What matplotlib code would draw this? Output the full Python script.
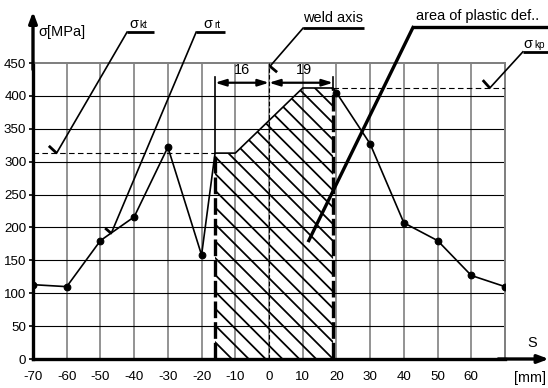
import numpy as np
import matplotlib.pyplot as plt
from matplotlib.patches import Polygon

plt.rcParams['font.family'] = ['Liberation Sans', 'DejaVu Sans']
plt.rcParams['axes.unicode_minus'] = False

# measured residual stress (markers)
s_meas = [-70, -60, -50, -40, -30, -20, 20, 30, 40, 50, 60, 70]
sig_meas = [113, 110, 180, 216, 322, 158, 405, 327, 207, 180, 127, 110]

# envelope of plastic deformation zone
s_zone = [-16, -10, 10, 19]
sig_zone = [313, 313, 412, 412]

sigma_kt = 313
sigma_kp = 412
left_w, right_w = 16, 19

x_ticks = list(range(-70, 70, 10))
y_ticks = list(range(0, 500, 50))

dpi = 80
fig = plt.figure(figsize=(548 / dpi, 388 / dpi), dpi=dpi)
ax = fig.add_axes([33 / 548, 29 / 388, 472 / 548, 296 / 388])
ax.set_xlim(-70, 70)
ax.set_ylim(0, 450)

# grid
for x in range(-60, 70, 10):
    ax.axvline(x, color='#808080', lw=1.5, zorder=1)
for y in range(50, 450, 50):
    ax.axhline(y, color='black', lw=1.0, zorder=1)

for side in ['top', 'right']:
    ax.spines[side].set_color('#808080')
    ax.spines[side].set_linewidth(1.8)
for side in ['left', 'bottom']:
    ax.spines[side].set_linewidth(3)

ax.set_xticks(x_ticks)
ax.set_xticklabels([str(v) for v in x_ticks], fontsize=12)
ax.set_yticks(y_ticks)
ax.set_yticklabels([str(v) for v in y_ticks], fontsize=12)
ax.tick_params(axis='x', length=0, pad=11)
ax.tick_params(axis='y', length=4, width=1.5, pad=2)

# axis arrows
ax.annotate('', xy=(-70, 528), xytext=(-70, 440), annotation_clip=False,
            arrowprops=dict(arrowstyle='-|>,head_length=0.8,head_width=0.3', lw=3, color='black',
                            shrinkA=0, shrinkB=0))
ax.annotate('', xy=(83, 0), xytext=(68, 0), annotation_clip=False,
            arrowprops=dict(arrowstyle='-|>,head_length=0.8,head_width=0.3', lw=3, color='black',
                            shrinkA=0, shrinkB=0))
ax.text(-68.4, 497, 'σ[MPa]', fontsize=13, va='center', ha='left')
ax.text(78, 24, 'S', fontsize=13, ha='center', va='center')
ax.text(77.5, -29, '[mm]', fontsize=13, ha='center', va='center', clip_on=False)

# plastic zone hatch (diagonal lines clipped to the zone)
zone = Polygon([(s_zone[0], 0)] + list(zip(s_zone, sig_zone)) + [(s_zone[-1], 0)],
               closed=True, facecolor='none', edgecolor='none')
ax.add_patch(zone)
k = 3.371 / 0.6578  # data slope for 45 deg on screen
for c in np.arange(-16, 120, 5.0):
    xs = np.array([c - 100, c])
    line, = ax.plot(xs, -k * (xs - c), color='black', lw=1.6, zorder=2)
    line.set_clip_path(zone)

# weld axis
ax.plot([0, 0], [0, 450], color='black', lw=1, ls=(0, (4, 2)), zorder=3)

# boundary dashed lines
ax.plot([s_zone[0], s_zone[0]], [0, sig_zone[0]], color='black', lw=3, ls=(0, (5, 1.2)), zorder=4)
ax.plot([s_zone[-1], s_zone[-1]], [0, sig_zone[-1]], color='black', lw=3, ls=(0, (5, 1.2)), zorder=4)

# stress curve
curve_x = s_meas[:6] + s_zone + s_meas[6:]
curve_y = sig_meas[:6] + sig_zone + sig_meas[6:]
ax.plot(curve_x, curve_y, color='black', lw=1.5, zorder=5)
ax.plot(s_meas, sig_meas, 'o', color='black', ms=6, zorder=6)

# sigma_kt / sigma_kp dashed levels
ax.plot([-70, s_zone[0]], [sigma_kt, sigma_kt], color='black', lw=1, ls=(0, (5, 3)), zorder=3)
ax.plot([s_zone[-1], 70], [sigma_kp, sigma_kp], color='black', lw=1, ls=(0, (5, 3)), zorder=3)

# dimension lines
dim_y = 420
ax.plot([s_zone[0], s_zone[0]], [sigma_kt, 428], color='black', lw=1.5, zorder=4)
ax.plot([s_zone[-1], s_zone[-1]], [sigma_kp, 428], color='black', lw=1.5, zorder=4)
for a, b in [(-left_w, 0), (0, right_w)]:
    ax.annotate('', xy=(a, dim_y), xytext=(b, dim_y),
                arrowprops=dict(arrowstyle='<|-|>,head_length=0.8,head_width=0.25', lw=2,
                                color='black', shrinkA=0, shrinkB=0), zorder=6)
ax.text(-left_w / 2, 428, str(left_w), fontsize=13, ha='center', va='bottom')
ax.text(right_w / 2 + 1, 428, str(right_w), fontsize=13, ha='center', va='bottom')


def leader(tick, start, corner, end, lw=1.5, under_lw=2.5):
    ax.plot([tick[0], start[0]], [tick[1], start[1]], color='black', lw=2.5,
            clip_on=False, zorder=7, solid_capstyle='butt')
    ax.plot([start[0], corner[0]], [start[1], corner[1]], color='black', lw=lw,
            clip_on=False, zorder=7)
    ax.plot([corner[0], end[0]], [corner[1], end[1]], color='black', lw=under_lw,
            clip_on=False, zorder=7, solid_capstyle='butt')


def sigma_label(x, y, sub):
    ax.text(x, y, 'σ', fontsize=13, ha='left', va='baseline')
    ax.text(x + 3.2, y, sub, fontsize=9, ha='left', va='baseline')


# sigma_kt
leader((-65.3, 324), (-63.0, sigma_kt), (-42.1, 497), (-34.1, 497))
sigma_label(-41.5, 503, 'kt')
# sigma_rt
leader((-48.6, 199), (-46.8, 191), (-21.6, 497), (-13.1, 497))
sigma_label(-19.5, 503, 'rt')
# weld axis
leader((2.4, 436), (0.3, 445), (10.1, 503), (28.2, 503))
ax.text(19.0, 508, 'weld axis', fontsize=13, ha='center', va='bottom')
# area of plastic deformation
leader((11.8, 180), (11.8, 180), (42.7, 504), (82.8, 504), lw=3, under_lw=3)
ax.text(62.0, 511, 'area of plastic def..', fontsize=13, ha='center', va='bottom')
# sigma_kp
leader((63.4, 424), (65.5, sigma_kp), (75.3, 467), (82.8, 467))
sigma_label(75.5, 473, 'kp')

fig.savefig('out.png', dpi=dpi)
